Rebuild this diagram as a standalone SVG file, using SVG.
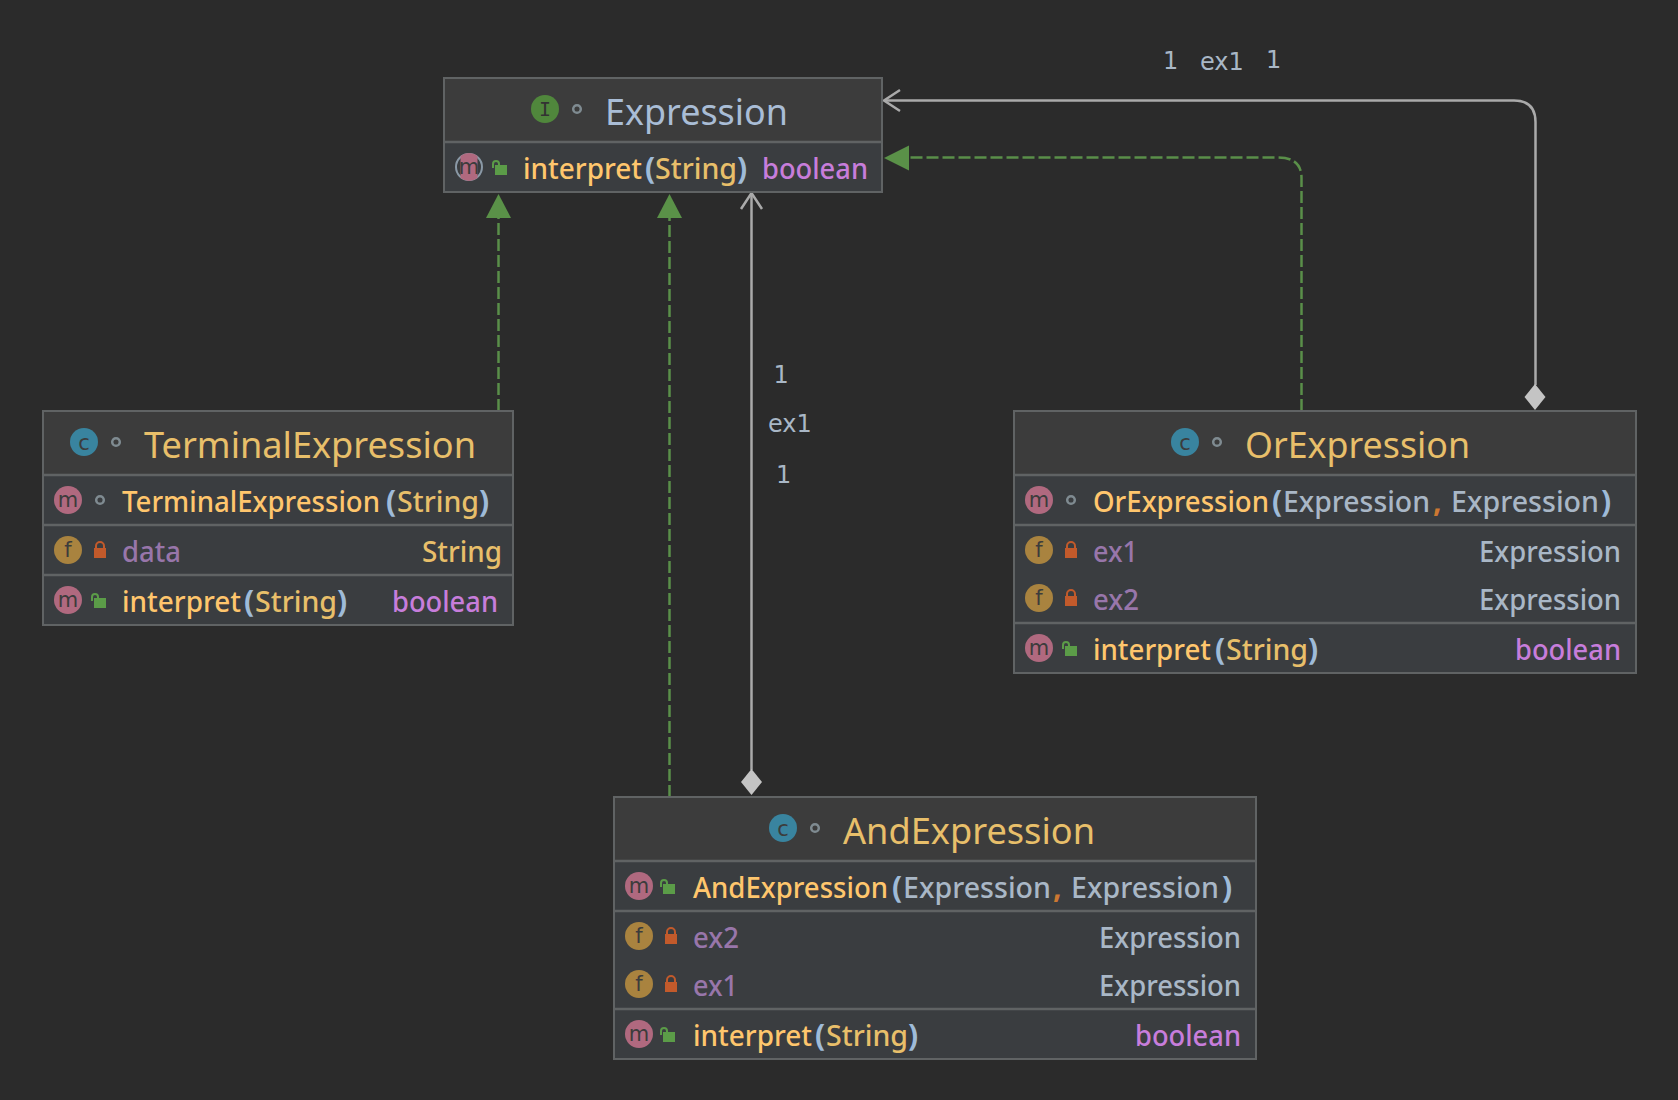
<svg xmlns="http://www.w3.org/2000/svg" width="1678" height="1100" viewBox="0 0 1678 1100">
<style>
.bg{fill:#2b2b2b}
.box{fill:#3a3d40;stroke:none}
.head{fill:#3c3c3c;stroke:none}
.frame{fill:none;stroke:#606364;stroke-width:2}
.div{stroke:#606364;stroke-width:2.5;fill:none}
text{font-family:"Noto Sans","Open Sans",sans-serif;font-size:29px;font-weight:500}
.title{font-size:37px;fill:#e8bf6a;font-weight:400}
.t-blue{font-size:37px;fill:#a9bdd6;font-weight:400}
.meth{fill:#ffc66d}
.field{fill:#9876aa}
.str{fill:#e8bf6a}
.type{fill:#a9b7c6}
.par{fill:#9fbbd8;font-weight:700;font-size:30px}
.comma{fill:#cc7832;font-weight:700;font-size:30px}
.bool{fill:#c77ddb}
.ic{font-family:"DejaVu Sans",sans-serif;font-size:21px;font-weight:400;fill:#3c3c3c;text-anchor:middle}
.im{font-family:"DejaVu Sans Mono",monospace;font-size:20px;font-weight:400;fill:#333;text-anchor:middle}
.lbl{font-family:"DejaVu Sans",sans-serif;font-size:24px;font-weight:400;fill:#a9b7c6}
.dep{fill:none;stroke:#5a8f49;stroke-width:2.500;stroke-dasharray:12 4}
.assoc{fill:none;stroke:#aaaaaa;stroke-width:2.500}
.ah{fill:#5a9148}
.dia{fill:#c4c4c4}
.cm{fill:#b0697f}.cf{fill:#a9833f}.cc{fill:#39849f}.ci{fill:#50873c}
.ring{fill:none;stroke:#7f8b91;stroke-width:2.500}
</style>
<defs>
<g id="lock"><rect x="-6" y="-3" width="12" height="10" fill="#c25a2b"/><path d="M-4,-3V-5a4,4 0 0 1 8,0V-3" fill="none" stroke="#c25a2b" stroke-width="2"/></g>
<g id="open"><rect x="-6" y="-5" width="12" height="10" fill="#5b9c48"/><path d="M-8,-2V-6a3,3 0 0 1 6,0V-4" fill="none" stroke="#5b9c48" stroke-width="2"/></g>
</defs>
<rect class="bg" width="1678" height="1100"/>

<g id="connectors">
<path class="dep" d="M498.500,411V215"/>
<path class="ah" d="M498.500,194L511,218H486Z"/>
<path class="dep" d="M669.500,797V215"/>
<path class="ah" d="M669.500,194L682,218H657Z"/>
<path class="assoc" d="M751.500,770V194"/>
<path class="assoc" d="M741,209L751.500,193L762,209"/>
<path class="dia" d="M751.500,769L762,782L751.500,795L741,782Z"/>
<path class="dep" d="M1301.500,411V178Q1301.500,157.500 1278,157.500H906"/>
<path class="ah" d="M884,158L909,145.500V170.500Z"/>
<path class="assoc" d="M1535.500,385V122Q1535.500,100.500 1514,100.500H884"/>
<path class="assoc" d="M900,90L884,100.500L900,111"/>
<path class="dia" d="M1535,384L1545.500,397L1535,410L1524.500,397Z"/>
<text class="lbl" x="1163" y="69">1</text>
<text class="lbl" x="1200" y="70">ex1</text>
<text class="lbl" x="1266" y="68">1</text>
<text class="lbl" x="773.500" y="382.500">1</text>
<text class="lbl" x="768" y="431.500">ex1</text>
<text class="lbl" x="776" y="483">1</text>
</g>

<g id="Expression">
<rect class="head" x="444" y="78" width="438" height="64"/>
<rect class="box" x="444" y="142" width="438" height="50"/>
<rect class="frame" x="444" y="78" width="438" height="114"/>
<path class="div" d="M444,142H882"/>
<circle class="ci" cx="545" cy="109" r="14"/>
<text class="im" x="545" y="116">I</text>
<circle class="ring" cx="577" cy="109" r="3.800"/>
<text class="t-blue" x="605" y="125" textLength="183" lengthAdjust="spacingAndGlyphs">Expression</text>
<circle cx="469" cy="167" r="13" fill="none" stroke="#8a99a6" stroke-width="2"/>
<path class="cm" d="M460.500,155.900A14,14 0 0 1 477.500,155.900V178.100A14,14 0 0 1 460.500,178.100Z"/>
<text class="ic" x="469" y="174">m</text>
<use href="#open" x="501" y="170"/>
<text class="meth" x="523" y="178.500" textLength="119" lengthAdjust="spacingAndGlyphs">interpret</text>
<text class="par" x="645" y="178.500">(</text>
<text class="str" x="655" y="178.500" textLength="82" lengthAdjust="spacingAndGlyphs">String</text>
<text class="par" x="737" y="178.500">)</text>
<text class="bool" x="762" y="178.500" textLength="106" lengthAdjust="spacingAndGlyphs">boolean</text>
</g>

<g id="TerminalExpression">
<rect class="head" x="43" y="411" width="470" height="64"/>
<rect class="box" x="43" y="475" width="470" height="150"/>
<rect class="frame" x="43" y="411" width="470" height="214"/>
<path class="div" d="M43,475H513M43,525H513M43,575H513"/>
<circle class="cc" cx="84" cy="442" r="14"/>
<text class="ic" x="84" y="449.500">c</text>
<circle class="ring" cx="116" cy="442" r="3.800"/>
<text class="title" x="144" y="458" textLength="332" lengthAdjust="spacingAndGlyphs">TerminalExpression</text>
<circle class="cm" cx="68" cy="500" r="14"/>
<text class="ic" x="68" y="507">m</text>
<circle class="ring" cx="100" cy="500" r="3.800"/>
<text class="meth" x="122" y="511.500" textLength="258" lengthAdjust="spacingAndGlyphs">TerminalExpression</text>
<text class="par" x="386" y="511.500">(</text>
<text class="str" x="397" y="511.500" textLength="82" lengthAdjust="spacingAndGlyphs">String</text>
<text class="par" x="479" y="511.500">)</text>
<circle class="cf" cx="68" cy="550" r="14"/>
<text class="ic" x="68" y="557">f</text>
<use href="#lock" x="100" y="551"/>
<text class="field" x="122" y="561.500" textLength="59" lengthAdjust="spacingAndGlyphs">data</text>
<text class="str" x="422" y="561.500" textLength="80" lengthAdjust="spacingAndGlyphs">String</text>
<circle class="cm" cx="68" cy="600" r="14"/>
<text class="ic" x="68" y="607">m</text>
<use href="#open" x="100" y="603"/>
<text class="meth" x="122" y="611.500" textLength="119" lengthAdjust="spacingAndGlyphs">interpret</text>
<text class="par" x="244" y="611.500">(</text>
<text class="str" x="255" y="611.500" textLength="82" lengthAdjust="spacingAndGlyphs">String</text>
<text class="par" x="337" y="611.500">)</text>
<text class="bool" x="392" y="611.500" textLength="106" lengthAdjust="spacingAndGlyphs">boolean</text>
</g>

<g id="OrExpression">
<rect class="head" x="1014" y="411" width="622" height="64"/>
<rect class="box" x="1014" y="475" width="622" height="198"/>
<rect class="frame" x="1014" y="411" width="622" height="262"/>
<path class="div" d="M1014,475H1636M1014,525H1636M1014,623H1636"/>
<circle class="cc" cx="1185" cy="442" r="14"/>
<text class="ic" x="1185" y="449.500">c</text>
<circle class="ring" cx="1217" cy="442" r="3.800"/>
<text class="title" x="1245" y="458" textLength="225" lengthAdjust="spacingAndGlyphs">OrExpression</text>
<circle class="cm" cx="1039" cy="500" r="14"/>
<text class="ic" x="1039" y="507">m</text>
<circle class="ring" cx="1071" cy="500" r="3.800"/>
<text class="meth" x="1093" y="511.500" textLength="176" lengthAdjust="spacingAndGlyphs">OrExpression</text>
<text class="par" x="1272" y="511.500">(</text>
<text class="type" x="1283" y="511.500" textLength="147" lengthAdjust="spacingAndGlyphs">Expression</text>
<text class="comma" x="1433" y="511.500">,</text>
<text class="type" x="1451" y="511.500" textLength="148" lengthAdjust="spacingAndGlyphs">Expression</text>
<text class="par" x="1601" y="511.500">)</text>
<circle class="cf" cx="1039" cy="550" r="14"/>
<text class="ic" x="1039" y="557">f</text>
<use href="#lock" x="1071" y="551"/>
<text class="field" x="1093" y="561.500" textLength="45" lengthAdjust="spacingAndGlyphs">ex1</text>
<text class="type" x="1479" y="561.500" textLength="142" lengthAdjust="spacingAndGlyphs">Expression</text>
<circle class="cf" cx="1039" cy="598" r="14"/>
<text class="ic" x="1039" y="605">f</text>
<use href="#lock" x="1071" y="599"/>
<text class="field" x="1093" y="609.500" textLength="46" lengthAdjust="spacingAndGlyphs">ex2</text>
<text class="type" x="1479" y="609.500" textLength="142" lengthAdjust="spacingAndGlyphs">Expression</text>
<circle class="cm" cx="1039" cy="648" r="14"/>
<text class="ic" x="1039" y="655">m</text>
<use href="#open" x="1071" y="651"/>
<text class="meth" x="1093" y="659.500" textLength="118" lengthAdjust="spacingAndGlyphs">interpret</text>
<text class="par" x="1215" y="659.500">(</text>
<text class="str" x="1226" y="659.500" textLength="82" lengthAdjust="spacingAndGlyphs">String</text>
<text class="par" x="1308" y="659.500">)</text>
<text class="bool" x="1515" y="659.500" textLength="106" lengthAdjust="spacingAndGlyphs">boolean</text>
</g>

<g id="AndExpression">
<rect class="head" x="614" y="797" width="642" height="64"/>
<rect class="box" x="614" y="861" width="642" height="198"/>
<rect class="frame" x="614" y="797" width="642" height="262"/>
<path class="div" d="M614,861H1256M614,911H1256M614,1009H1256"/>
<circle class="cc" cx="783" cy="828" r="14"/>
<text class="ic" x="783" y="835.500">c</text>
<circle class="ring" cx="815" cy="828" r="3.800"/>
<text class="title" x="843" y="844" textLength="252" lengthAdjust="spacingAndGlyphs">AndExpression</text>
<circle class="cm" cx="639" cy="886" r="14"/>
<text class="ic" x="639" y="893">m</text>
<use href="#open" x="669" y="889"/>
<text class="meth" x="693" y="897.500" textLength="195" lengthAdjust="spacingAndGlyphs">AndExpression</text>
<text class="par" x="892" y="897.500">(</text>
<text class="type" x="903" y="897.500" textLength="148" lengthAdjust="spacingAndGlyphs">Expression</text>
<text class="comma" x="1053" y="897.500">,</text>
<text class="type" x="1071" y="897.500" textLength="148" lengthAdjust="spacingAndGlyphs">Expression</text>
<text class="par" x="1222" y="897.500">)</text>
<circle class="cf" cx="639" cy="936" r="14"/>
<text class="ic" x="639" y="943">f</text>
<use href="#lock" x="671" y="937"/>
<text class="field" x="693" y="947.500" textLength="46" lengthAdjust="spacingAndGlyphs">ex2</text>
<text class="type" x="1099" y="947.500" textLength="142" lengthAdjust="spacingAndGlyphs">Expression</text>
<circle class="cf" cx="639" cy="984" r="14"/>
<text class="ic" x="639" y="991">f</text>
<use href="#lock" x="671" y="985"/>
<text class="field" x="693" y="995.500" textLength="45" lengthAdjust="spacingAndGlyphs">ex1</text>
<text class="type" x="1099" y="995.500" textLength="142" lengthAdjust="spacingAndGlyphs">Expression</text>
<circle class="cm" cx="639" cy="1034" r="14"/>
<text class="ic" x="639" y="1041">m</text>
<use href="#open" x="669" y="1037"/>
<text class="meth" x="693" y="1045.500" textLength="119" lengthAdjust="spacingAndGlyphs">interpret</text>
<text class="par" x="815" y="1045.500">(</text>
<text class="str" x="826" y="1045.500" textLength="82" lengthAdjust="spacingAndGlyphs">String</text>
<text class="par" x="908" y="1045.500">)</text>
<text class="bool" x="1135" y="1045.500" textLength="106" lengthAdjust="spacingAndGlyphs">boolean</text>
</g>
</svg>
